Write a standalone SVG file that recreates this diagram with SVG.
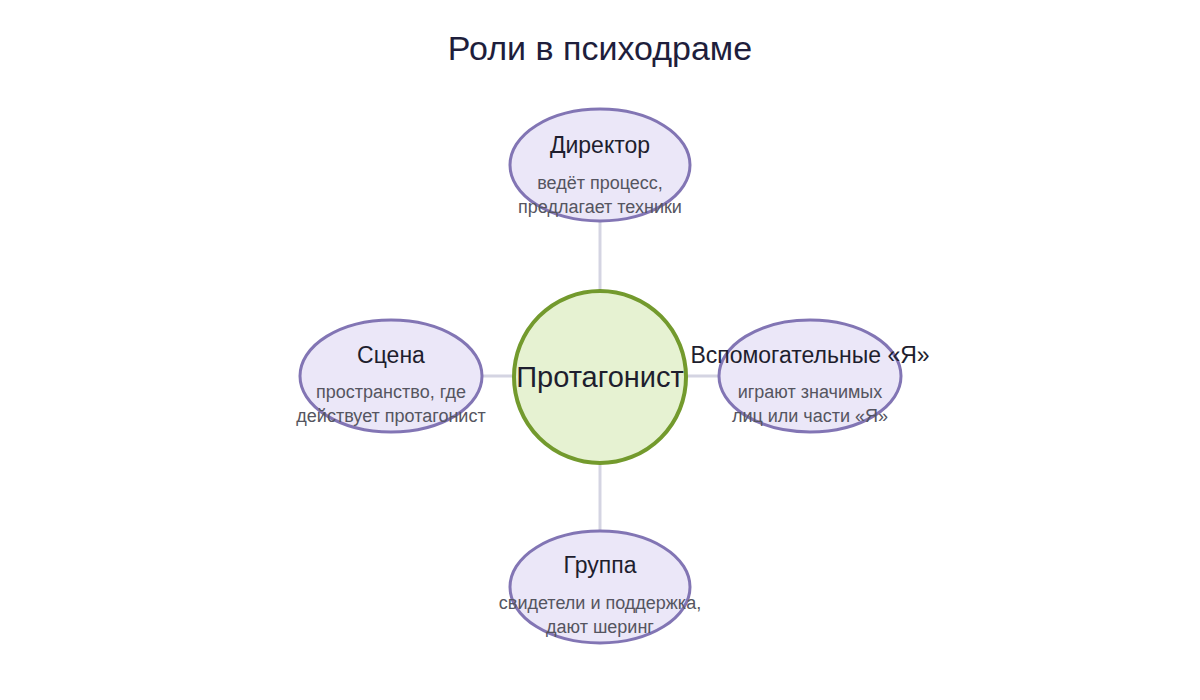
<svg xmlns="http://www.w3.org/2000/svg" width="1200" height="700" viewBox="0 0 1200 700">
<style>
.title{font-family:"Liberation Sans",Arial,sans-serif;font-size:34px;fill:#1e1e3c;text-anchor:middle}
.nt{font-family:"Liberation Sans",Arial,sans-serif;font-size:23px;fill:#1e1e2e;text-anchor:middle}
.st{font-family:"Liberation Sans",Arial,sans-serif;font-size:18px;fill:#555560;text-anchor:middle}
.ct{font-family:"Liberation Sans",Arial,sans-serif;font-size:29px;fill:#1e1e2e;text-anchor:middle}
.node{fill:#ebe7f8;stroke:#8275b4;stroke-width:3}
.center{fill:#e6f2d2;stroke:#739a2d;stroke-width:4}
.edge{stroke:#d4d4e2;stroke-width:3;fill:none}
</style>
<rect width="1200" height="700" fill="#ffffff"/>
<text class="title" x="600" y="60">Роли в психодраме</text>
<g id="connectors">
<line class="edge" x1="600" y1="221" x2="600" y2="291"/>
<line class="edge" x1="482" y1="376" x2="515" y2="376"/>
<line class="edge" x1="686" y1="376" x2="720" y2="376"/>
<line class="edge" x1="600" y1="463" x2="600" y2="532"/>
</g>
<g id="director">
<ellipse class="node" cx="600" cy="165" rx="90" ry="56"/>
<text class="nt" x="600" y="153">Директор</text>
<text class="st" x="600" y="189">ведёт процесс,</text>
<text class="st" x="600" y="213">предлагает техники</text>
</g>
<g id="scena">
<ellipse class="node" cx="391" cy="376" rx="91" ry="56"/>
<text class="nt" x="391" y="363">Сцена</text>
<text class="st" x="391" y="398">пространство, где</text>
<text class="st" x="391" y="422">действует протагонист</text>
</g>
<g id="vspom">
<ellipse class="node" cx="810" cy="376" rx="91" ry="56"/>
<text class="nt" x="810" y="363">Вспомогательные «Я»</text>
<text class="st" x="810" y="398">играют значимых</text>
<text class="st" x="810" y="422">лиц или части «Я»</text>
</g>
<g id="group">
<ellipse class="node" cx="600" cy="587" rx="90" ry="56"/>
<text class="nt" x="600" y="573">Группа</text>
<text class="st" x="600" y="609">свидетели и поддержка,</text>
<text class="st" x="600" y="633">дают шеринг</text>
</g>
<g id="protagonist">
<circle class="center" cx="600" cy="377" r="86"/>
<text class="ct" x="600" y="387">Протагонист</text>
</g>
</svg>
